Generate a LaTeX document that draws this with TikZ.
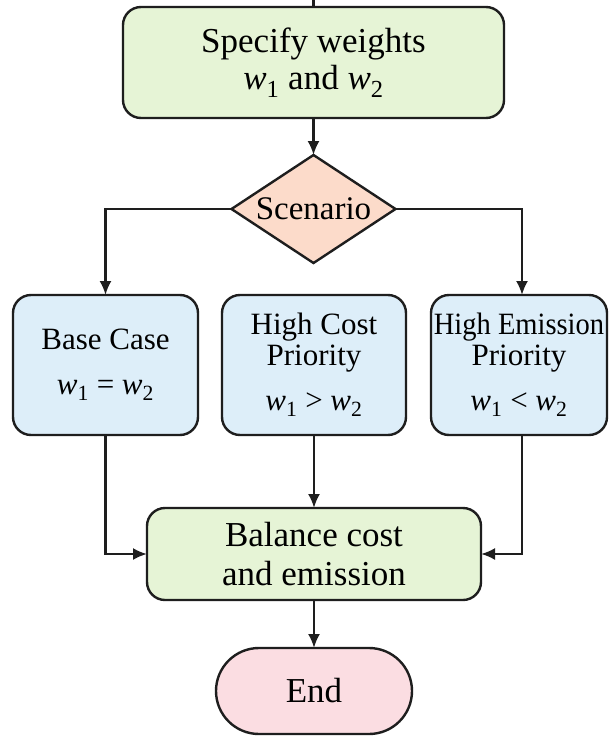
\documentclass[tikz,border=0pt]{standalone}
\usepackage{fontspec}
\usepackage{graphicx}
\setmainfont{Liberation Serif}
\usetikzlibrary{shapes.geometric,arrows.meta}
\definecolor{cgreen}{HTML}{E6F4D6}
\definecolor{cpeach}{HTML}{FCDBCA}
\definecolor{cblue}{HTML}{DDEEF9}
\definecolor{cpink}{HTML}{FBDDE2}
\definecolor{cline}{HTML}{1E1E1E}
\newcommand{\wv}[1]{\textit{w}\textsubscript{#1}}
\begin{document}
\begin{tikzpicture}[x=1pt,y=-1pt,
  every node/.style={inner sep=0pt, outer sep=0pt},
  flow/.style={draw=cline, line width=2.2pt, -{Latex[length=14pt,width=12pt]}},
  boxbase/.style={draw=cline, line width=2.4pt, align=center, rounded corners=18pt},
  greenbox/.style={boxbase, fill=cgreen},
  bluebox/.style={boxbase, fill=cblue, minimum height=140pt, font=\fontsize{31}{31}\selectfont},
  bigfont/.style={font=\fontsize{35}{37}\selectfont}]
\fill[white] (0,0) rectangle (609,736);
\useasboundingbox (0,0) rectangle (609,736);

\node[greenbox, bigfont, minimum width=381pt, minimum height=111pt] (top) at (313.5,62.5)
  {Specify weights\\\wv{1} and \wv{2}};
\node[draw=cline, line width=2.4pt, diamond, aspect=1.52, fill=cpeach,
  minimum width=164pt, minimum height=108pt, font=\fontsize{33}{33}\selectfont] (dia) at (313.5,209) {Scenario};

\node[bluebox, minimum width=185pt] (left) at (105.5,365)
  {Base Case\\[14pt]\wv{1} = \wv{2}};
\node[bluebox, minimum width=184pt] (mid) at (314,365)
  {High Cost\\Priority\\[14pt]\wv{1} > \wv{2}};
\node[bluebox, minimum width=176pt] (right) at (519,365)
  {\scalebox{0.92}[1]{High Emission}\\Priority\\[14pt]\wv{1} < \wv{2}};

\node[greenbox, minimum width=334pt, minimum height=92pt, font=\fontsize{35}{39}\selectfont] (bal) at (314,554)
  {Balance cost\\and emission};
\node[boxbase, fill=cpink, rounded corners=43pt, minimum width=196pt, minimum height=86pt, bigfont] (end) at (314,691)
  {End};

\coordinate (stub) at (313.5,0);
\draw[draw=cline, line width=2.2pt] (stub) -- (top.north);
\draw[flow] (top.south) -- (dia.north);
\draw[flow] (dia.west) -| (left.north);
\draw[flow] (dia.east) -| ([xshift=3pt]right.north);
\draw[flow] (left.south) |- (bal.west);
\draw[flow] (mid.south) -- (bal.north);
\draw[flow] ([xshift=3pt]right.south) |- (bal.east);
\draw[flow] (bal.south) -- (end.north);
\end{tikzpicture}
\end{document}
